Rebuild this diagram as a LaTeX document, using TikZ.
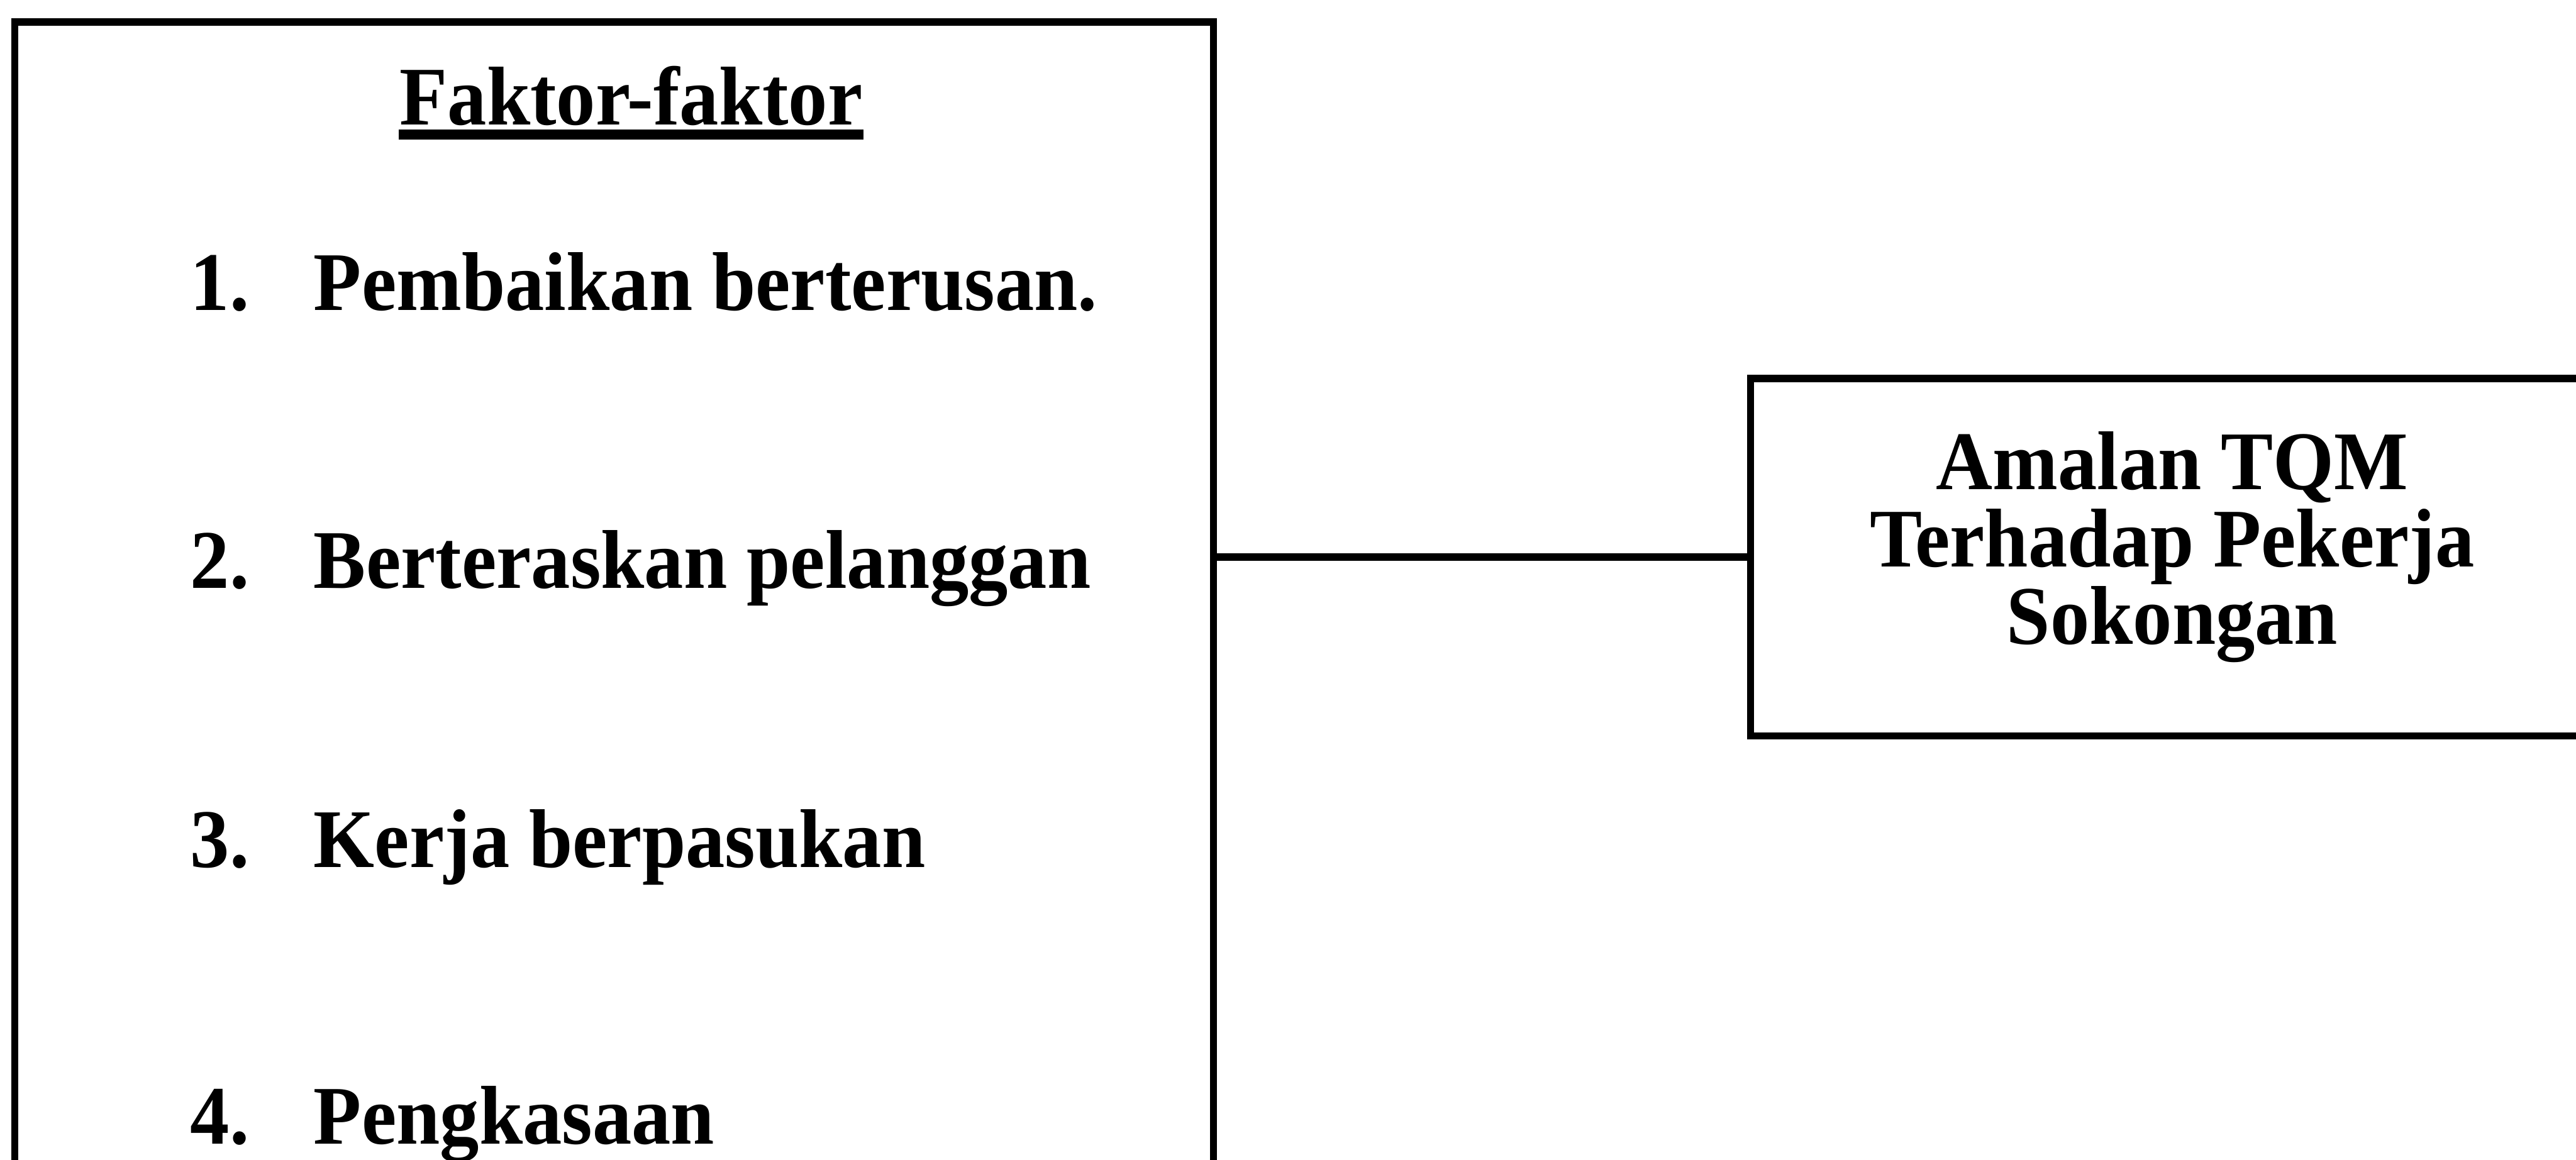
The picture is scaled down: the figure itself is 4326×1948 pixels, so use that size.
\documentclass[tikz,border=0pt]{standalone}
\usepackage{fontspec}
\setmainfont{Liberation Serif}[FakeStretch=0.94]
\begin{document}
\begin{tikzpicture}[x=0.1pt,y=-0.1pt,
  boxline/.style={draw=black, line width=1.2pt, rectangle, inner sep=0pt},
  txt/.style={font=\fontsize{14pt}{14pt}\selectfont\bfseries, inner sep=0pt},
  conn/.style={draw=black, line width=1.3pt}
]
\useasboundingbox (0,0) rectangle (4326,1948);
\clip (0,0) rectangle (4326,1948);
% boxes
\node[boxline, minimum width=201.3pt, minimum height=197.3pt] (lbox) at (1031.5,1023.5) {};
\node[boxline, minimum width=141.7pt, minimum height=60.0pt] (rbox) at (3648.5,936) {};
% left box texts
\node[txt, anchor=base] (title) at (1060,210) {Faktor-faktor};
\draw[line width=1.6pt] ([yshift=-1.6pt]title.base west) -- ([yshift=-1.6pt]title.base east);
\node[txt, anchor=base west] (n1) at (318,521) {1.};
\node[txt, anchor=base west] (t1) at (525,521) {Pembaikan berterusan.};
\node[txt, anchor=base west] (n2) at (318,988) {2.};
\node[txt, anchor=base west] (t2) at (525,988) {Berteraskan pelanggan};
\node[txt, anchor=base west] (n3) at (318,1457) {3.};
\node[txt, anchor=base west] (t3) at (525,1457) {Kerja berpasukan};
\node[txt, anchor=base west] (n4) at (318,1922) {4.};
\node[txt, anchor=base west] (t4) at (525,1922) {Pengkasaan};
% right box texts
\node[txt, anchor=base] (r1) at (3648,822) {Amalan TQM};
\node[txt, anchor=base] (r2) at (3648,952) {Terhadap Pekerja};
\node[txt, anchor=base] (r3) at (3648,1082) {Sokongan};
% connector
\draw[conn] (lbox.east |- rbox.west) -- (rbox.west);
\end{tikzpicture}
\end{document}
